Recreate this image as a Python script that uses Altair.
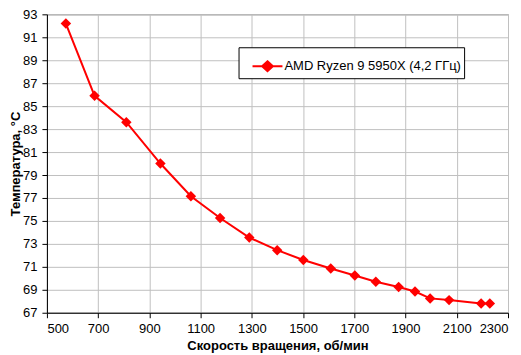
import altair as alt
import pandas as pd

rpm = [574, 686, 810, 943, 1062, 1176, 1290, 1399, 1501, 1608, 1702, 1784, 1873, 1937, 1996, 2070, 2195, 2229]
temp = [92.2, 85.9, 83.6, 80.0, 77.15, 75.25, 73.55, 72.45, 71.6, 70.85, 70.25, 69.7, 69.25, 68.85, 68.25, 68.1, 67.8, 67.8]
series_name = "AMD Ryzen 9 5950X (4,2 ГГц)"
x_ticks = list(range(500, 2301, 200))
y_ticks = list(range(67, 94, 2))

df = pd.DataFrame({"rpm": rpm, "temp": temp, "series": [series_name] * len(rpm)})

FONT = "Liberation Sans"

x = alt.X("rpm:Q", scale=alt.Scale(domain=[500, 2300], nice=False, zero=False),
          axis=alt.Axis(values=x_ticks, title="Скорость вращения, об/мин", format="d",
                        labelPadding=5, titleX=231, titleY=27, titleBaseline="top"))
y = alt.Y("temp:Q", scale=alt.Scale(domain=[67, 93], nice=False, zero=False),
          axis=alt.Axis(values=y_ticks, title="Температура, °C", format="d",
                        labelPadding=5, titleX=-24, titleBaseline="bottom"))
color = alt.Color("series:N", scale=alt.Scale(range=["#ff0000"]),
                  legend=alt.Legend(title=None, orient="none", legendX=192, legendY=33,
                                    symbolType="M-1,0L1,0M0,-0.33L0.36,0L0,0.33L-0.36,0Z",
                                    symbolSize=900, symbolStrokeWidth=2,
                                    symbolFillColor="#ff0000", symbolStrokeColor="#ff0000",
                                    symbolOffset=10, labelLimit=400,
                                    labelFontSize=13, labelColor="black", labelFont=FONT,
                                    strokeColor="black", fillColor="white", padding=3,
                                    labelOffset=1))

line = alt.Chart(df).mark_line(strokeWidth=2).encode(x=x, y=y, color=color)
pts = alt.Chart(df).mark_point(shape="diamond", size=110, filled=True, opacity=1).encode(
    x=x, y=y, color=alt.Color("series:N", scale=alt.Scale(range=["#ff0000"]), legend=None))

chart = (line + pts).properties(
    width=462, height=299,
    autosize=alt.AutoSizeParams(type="none"),
    padding={"left": 39, "top": 6, "right": 5, "bottom": 42},
).configure_view(stroke="#808080", strokeWidth=1).configure_axis(
    labelFont=FONT, labelFontSize=13, labelColor="black",
    titleFont=FONT, titleFontSize=13, titleFontWeight="bold", titleColor="black",
    domainColor="black", tickColor="black", tickSize=5,
    gridColor="#c0c0c0", gridWidth=1,
)

chart.save("out.html", embed_options={"renderer": "svg", "actions": False})
